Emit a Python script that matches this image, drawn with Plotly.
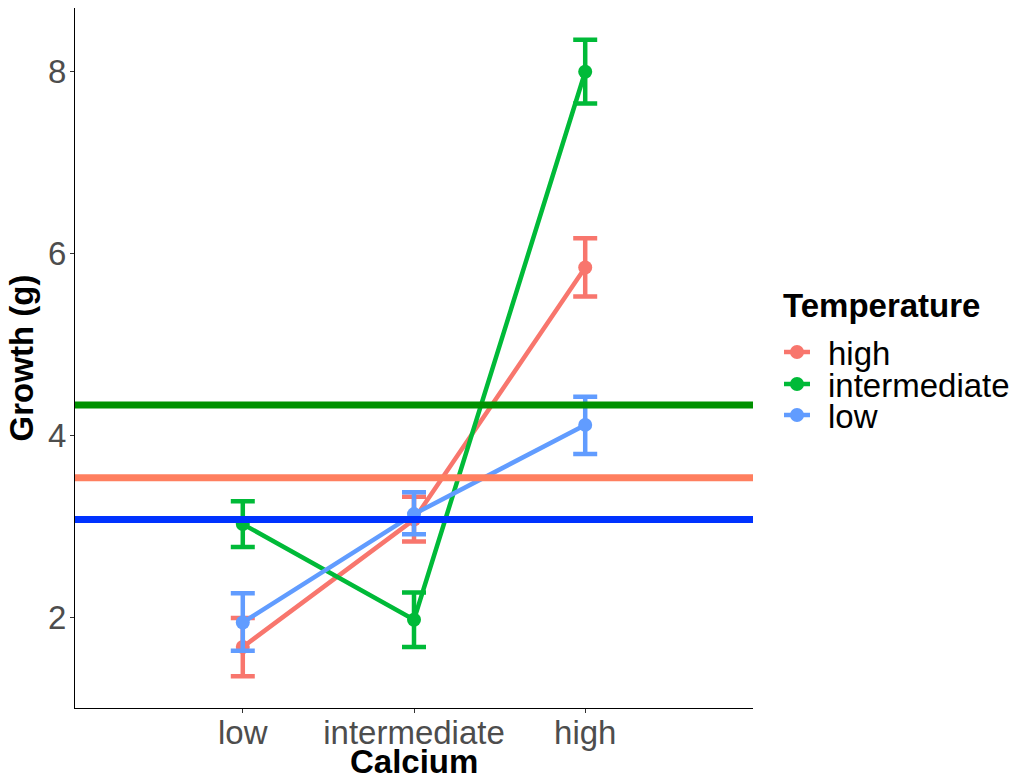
import plotly.graph_objects as go

calcium = ["low", "intermediate", "high"]
temperature = ["high", "intermediate", "low"]

# mean growth per calcium level, one list per temperature
growth_high = [1.68, 3.08, 5.85]
growth_intermediate = [3.03, 1.98, 8.00]
growth_low = [1.95, 3.14, 4.12]

# error bar bounds
upper_high = [2.00, 3.33, 6.17]
lower_high = [1.36, 2.84, 5.53]
upper_intermediate = [3.28, 2.28, 8.35]
lower_intermediate = [2.78, 1.68, 7.65]
upper_low = [2.27, 3.38, 4.43]
lower_low = [1.64, 2.92, 3.80]

# overall mean growth per temperature
overall_mean = {"high": 3.54, "intermediate": 4.34, "low": 3.08}

series_colors = {"high": "#F8766D", "intermediate": "#00BA38", "low": "#619CFF"}
mean_colors = {"high": "#FF7F5F", "intermediate": "#009100", "low": "#0032FF"}

series = {
    "high": (growth_high, upper_high, lower_high),
    "intermediate": (growth_intermediate, upper_intermediate, lower_intermediate),
    "low": (growth_low, upper_low, lower_low),
}

W, H = 1019, 781
L, R, T, B = 75, 266, 8, 73
PW, PH = W - L - R, H - T - B

def px_x(px):
    return (px - L) / PW

def px_y(py):
    return (H - B - py) / PH

font_family = "Liberation Sans, Arial, sans-serif"
fig = go.Figure()

# horizontal reference lines for the temperature means
for t in ["low", "high", "intermediate"]:
    fig.add_trace(go.Scatter(
        x=[-0.98, 2.98], y=[overall_mean[t]] * 2, mode="lines",
        line=dict(color=mean_colors[t], width=7), showlegend=False,
        hoverinfo="skip", xaxis="x2",
    ))

for t in temperature:
    vals, up, lo = series[t]
    fig.add_trace(go.Scatter(
        x=calcium, y=vals, name=t, mode="lines+markers", showlegend=False,
        line=dict(color=series_colors[t], width=4.5),
        marker=dict(color=series_colors[t], size=14),
        error_y=dict(type="data", symmetric=False,
                     array=[u - v for u, v in zip(up, vals)],
                     arrayminus=[v - l for v, l in zip(vals, lo)],
                     color=series_colors[t], thickness=4.5, width=12),
    ))

# legend: title, then a line-with-dot key and label per temperature
annotations = [dict(
    text="<b>Temperature</b>", x=px_x(781), y=px_y(305), xref="paper", yref="paper",
    xanchor="left", yanchor="middle", showarrow=False,
    font=dict(size=33, color="black"),
)]
shapes = []
item_rows = [352, 384, 415]
for t, row in zip(temperature, item_rows):
    c = series_colors[t]
    shapes.append(dict(type="line", xref="paper", yref="paper",
                       x0=px_x(784), x1=px_x(810), y0=px_y(row), y1=px_y(row),
                       line=dict(color=c, width=4.5)))
    shapes.append(dict(type="circle", xref="paper", yref="paper",
                       xsizemode="pixel", ysizemode="pixel",
                       xanchor=px_x(797), yanchor=px_y(row),
                       x0=-7, x1=7, y0=-7, y1=7,
                       fillcolor=c, line=dict(color=c, width=0)))
    annotations.append(dict(
        text=t, x=px_x(826), y=px_y(row + 1), xref="paper", yref="paper",
        xanchor="left", yanchor="middle", showarrow=False,
        font=dict(size=33, color="black"),
    ))

# x axis title, sitting on the bottom edge
annotations.append(dict(
    text="<b>Calcium</b>", x=px_x(414), y=px_y(781), xref="paper", yref="paper",
    xanchor="center", yanchor="bottom", showarrow=False, borderpad=0,
    font=dict(size=33, color="black"),
))

fig.update_layout(
    width=W, height=H,
    margin=dict(l=L, r=R, t=T, b=B, autoexpand=False),
    paper_bgcolor="white", plot_bgcolor="white",
    font=dict(family=font_family),
    showlegend=False,
    annotations=annotations,
    shapes=shapes,
    xaxis=dict(
        type="category", categoryorder="array", categoryarray=calcium,
        range=[-0.98, 2.98], showgrid=False, zeroline=False, automargin=False,
        showline=True, linecolor="black", linewidth=1.2,
        ticks="outside", ticklen=4, tickcolor="#333333",
        ticklabelstandoff=-9,
        tickfont=dict(size=33, color="#4D4D4D"),
    ),
    xaxis2=dict(range=[-0.98, 2.98], overlaying="x", visible=False),
    yaxis=dict(
        range=[1.01, 8.70], showgrid=False, zeroline=False, automargin=False,
        showline=True, linecolor="black", linewidth=1.2,
        tickvals=[2, 4, 6, 8], ticks="outside", ticklen=4, tickcolor="#333333",
        ticklabelstandoff=-3,
        tickfont=dict(size=33, color="#4D4D4D"),
        title=dict(text="<b>Growth (g)</b>", font=dict(size=33, color="black"), standoff=4),
    ),
)

fig.write_html("out.html")
